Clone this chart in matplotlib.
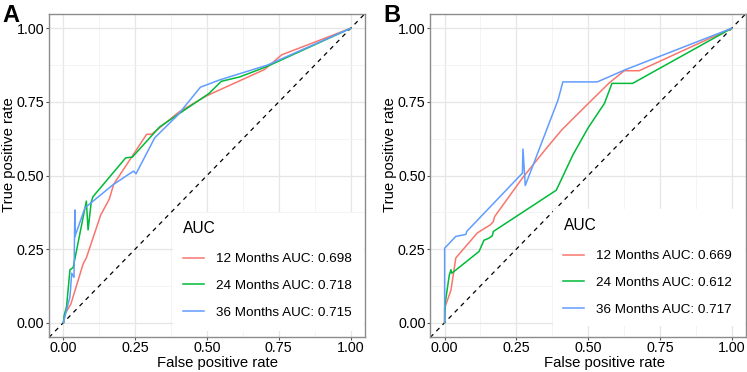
import matplotlib
matplotlib.use('Agg')

import matplotlib.pyplot as plt
import numpy as np
from matplotlib.patches import Rectangle

plt.rcParams['font.family'] = ['Liberation Sans', 'DejaVu Sans']

# ROC data, panel A
a12_fpr = [0, 0.006, 0.026, 0.069, 0.08, 0.13, 0.16, 0.175, 0.29, 0.307, 0.403, 0.497, 0.70, 0.76, 1.0]
a12_tpr = [0, 0.03, 0.063, 0.20, 0.22, 0.366, 0.42, 0.47, 0.64, 0.64, 0.716, 0.77, 0.86, 0.91, 1.0]
a24_fpr = [0, 0.003, 0.011, 0.023, 0.034, 0.08, 0.086, 0.097, 0.103, 0.217, 0.24, 0.335, 0.403, 0.506, 0.55, 0.614, 0.708, 1.0]
a24_tpr = [0, 0.026, 0.054, 0.18, 0.187, 0.413, 0.315, 0.41, 0.428, 0.56, 0.5625, 0.665, 0.71, 0.778, 0.82, 0.835, 0.87, 1.0]
a36_fpr = [0, 0.005, 0.023, 0.029, 0.037, 0.04, 0.04, 0.075, 0.172, 0.244, 0.253, 0.318, 0.398, 0.477, 0.545, 0.71, 1.0]
a36_tpr = [0, 0.02, 0.088, 0.168, 0.154, 0.383, 0.292, 0.39, 0.468, 0.515, 0.506, 0.628, 0.705, 0.80, 0.825, 0.875, 1.0]

# ROC data, panel B
b12_fpr = [0, 0, 0.01, 0.022, 0.039, 0.114, 0.16, 0.17, 0.174, 0.27, 0.35, 0.41, 0.5, 0.574, 0.626, 0.678, 1.0]
b12_tpr = [0, 0.05, 0.077, 0.11, 0.22, 0.305, 0.333, 0.344, 0.36, 0.49, 0.587, 0.657, 0.744, 0.815, 0.856, 0.856, 1.0]
b24_fpr = [0, 0.002, 0.016, 0.022, 0.025, 0.12, 0.137, 0.154, 0.166, 0.17, 0.389, 0.406, 0.447, 0.5, 0.557, 0.583, 0.655, 1.0]
b24_tpr = [0, 0.066, 0.16, 0.18, 0.168, 0.242, 0.28, 0.287, 0.295, 0.31, 0.45, 0.485, 0.57, 0.662, 0.745, 0.813, 0.813, 1.0]
b36_fpr = [0, 0, 0.039, 0.074, 0.077, 0.271, 0.273, 0.281, 0.395, 0.412, 0.532, 0.626, 1.0]
b36_tpr = [0, 0.253, 0.293, 0.30, 0.31, 0.508, 0.59, 0.466, 0.756, 0.818, 0.818, 0.858, 1.0]

a_auc = [0.698, 0.718, 0.715]
b_auc = [0.669, 0.612, 0.717]
months = [12, 24, 36]
colors = ['#F8766D', '#00BA38', '#619CFF']

ticks = [0, 0.25, 0.5, 0.75, 1.0]
tick_labels = ['0.00', '0.25', '0.50', '0.75', '1.00']

fig = plt.figure(figsize=(7.47, 3.72), dpi=100)
ax_a = fig.add_axes([0.0656, 0.093, 0.423, 0.8704])
ax_b = fig.add_axes([0.576, 0.093, 0.4226, 0.8704])


def draw_panel(ax, curves, aucs, letter, xlab_x, box, leg_anchor):
    ax.set_xlim(-0.05, 1.05)
    ax.set_ylim(-0.05, 1.05)
    ax.set_xticks(ticks)
    ax.set_xticklabels(tick_labels)
    ax.set_yticks(ticks)
    ax.set_yticklabels(tick_labels)
    ax.set_xticks(np.arange(0.125, 1.0, 0.25), minor=True)
    ax.set_yticks(np.arange(0.125, 1.0, 0.25), minor=True)
    ax.grid(which='major', color='#E6E6E6', lw=0.9)
    ax.grid(which='minor', color='#F3F3F3', lw=0.6)
    ax.set_axisbelow(True)
    ax.tick_params(which='major', length=2.4, width=0.8, color='#555555',
                   labelsize=10.3, labelcolor='black')
    ax.tick_params(axis='x', which='major', pad=0)
    ax.tick_params(axis='y', which='major', pad=1)
    ax.tick_params(which='minor', length=0)
    for s in ax.spines.values():
        s.set_color('#8C8C8C')
        s.set_linewidth(1.0)

    ax.plot([-0.05, 1.05], [-0.05, 1.05], ls=(0, (3.5, 3.5)), color='black', lw=0.9)
    for (fpr, tpr), m, auc, c in zip(curves, months, aucs, colors):
        ax.plot(fpr, tpr, color=c, lw=1.1, label=f'{m} Months AUC: {auc:.3f}')

    ax.set_xlabel('False positive rate', fontsize=10.7)
    ax.set_ylabel('True positive rate', fontsize=10.7)
    ax.xaxis.set_label_coords(xlab_x, -0.058)
    ax.yaxis.set_label_coords(-0.104, 0.563)

    # white legend background
    x0, y0, x1, y1 = box
    ax.add_patch(Rectangle((x0, y0), x1 - x0, y1 - y0, transform=ax.transAxes,
                           facecolor='white', edgecolor='none', zorder=4))
    leg = ax.legend(loc='upper left', bbox_to_anchor=leg_anchor, title='AUC',
                    fontsize=9.7, title_fontsize=11.2, frameon=False,
                    handlelength=1.54, handletextpad=0.89, labelspacing=1.05,
                    borderpad=0, borderaxespad=0)
    leg._legend_box.align = 'left'
    leg._legend_box.sep = 12.2  # a bit more room under the title
    leg.set_zorder(5)

    fig.text(ax.get_position().x0 - 0.063, 0.99, letter, fontsize=17,
             fontweight='bold', ha='left', va='top')


draw_panel(ax_a, [(a12_fpr, a12_tpr), (a24_fpr, a24_tpr), (a36_fpr, a36_tpr)],
           a_auc, 'A', 0.533, (0.392, 0.020, 0.997, 0.384), (0.424, 0.3595))
draw_panel(ax_b, [(b12_fpr, b12_tpr), (b24_fpr, b24_tpr), (b36_fpr, b36_tpr)],
           b_auc, 'B', 0.553, (0.389, 0.034, 0.997, 0.398), (0.422, 0.3687))

fig.savefig('out.png', dpi=100)
